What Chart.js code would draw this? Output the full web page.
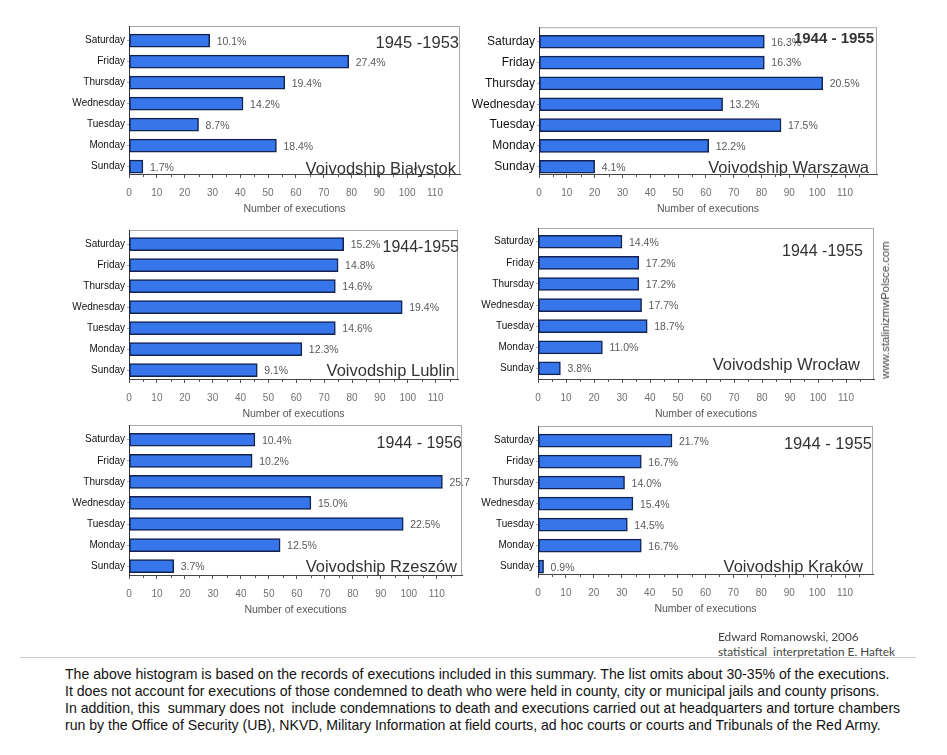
<!DOCTYPE html>
<html>
<head>
<meta charset="utf-8">
<script src="https://cdn.jsdelivr.net/npm/chart.js@4.4.1/dist/chart.umd.min.js"></script>
<style>
  html, body { margin:0; padding:0; background:#fff; }
  body { width:947px; height:755px; position:relative; overflow:hidden; }
  canvas.panel { position:absolute; }
  .credit { position:absolute; left:718px; font-family:Lato, "Open Sans", sans-serif; font-size:11.8px; color:#444; white-space:nowrap; }
  .rule { position:absolute; left:20px; top:657px; width:896px; height:1px; background:#cfcfcf; }
  .note { position:absolute; left:65px; top:666px; font-family:"Liberation Sans", Arial, sans-serif; font-size:14.1px; line-height:17px; color:#111; white-space:nowrap; }
  .wm { position:absolute; left:885px; top:310px; transform:translate(-50%,-50%) rotate(-90deg); font-family:"Liberation Sans", Arial, sans-serif; font-size:11.3px; color:#444; white-space:nowrap; }
</style>
</head>
<body>
<canvas id="p1" class="panel"></canvas>
<canvas id="p2" class="panel"></canvas>
<canvas id="p3" class="panel"></canvas>
<canvas id="p4" class="panel"></canvas>
<canvas id="p5" class="panel"></canvas>
<canvas id="p6" class="panel"></canvas>
<div class="wm">www.stalinizmwPolsce.com</div>
<div class="credit" style="top:629px">Edward Romanowski, 2006</div>
<div class="credit" style="top:644px">statistical&nbsp; interpretation E. Haftek</div>
<div class="rule"></div>
<div class="note">The above histogram is based on the records of executions included in this summary. The list omits about 30-35% of the executions.<br>It does not account for executions of those condemned to death who were held in county, city or municipal jails and county prisons.<br>In addition, this&nbsp; summary does not&nbsp; include condemnations to death and executions carried out at headquarters and torture chambers<br>run by the Office of Security (UB), NKVD, Military Information at field courts, ad hoc courts or courts and Tribunals of the Red Army.</div>
<script>
// ---- data ----
const DAYS = ['Saturday','Friday','Thursday','Wednesday','Tuesday','Monday','Sunday'];
const X_TICKS = [0,10,20,30,40,50,60,70,80,90,100,110];
const AXIS_TITLE = 'Number of executions';

const BIALYSTOK = [29,79,56,41,25,53,5];
const BIALYSTOK_PCT = ['10.1%','27.4%','19.4%','14.2%','8.7%','18.4%','1.7%'];
const WARSZAWA = [81,81,102,66,87,61,20];
const WARSZAWA_PCT = ['16.3%','16.3%','20.5%','13.2%','17.5%','12.2%','4.1%'];
const LUBLIN = [77,75,74,98,74,62,46];
const LUBLIN_PCT = ['15.2%','14.8%','14.6%','19.4%','14.6%','12.3%','9.1%'];
const WROCLAW = [30,36,36,37,39,23,8];
const WROCLAW_PCT = ['14.4%','17.2%','17.2%','17.7%','18.7%','11.0%','3.8%'];
const RZESZOW = [45,44,112,65,98,54,16];
const RZESZOW_PCT = ['10.4%','10.2%','25.7%','15.0%','22.5%','12.5%','3.7%'];
const KRAKOW = [48,37,31,34,32,37,2];
const KRAKOW_PCT = ['21.7%','16.7%','14.0%','15.4%','14.5%','16.7%','0.9%'];

// ---- layout / style ----
const SANS = '"Liberation Sans", Arial, sans-serif';
const YW = 110, PAD_T = 6, PAD_R = 8, XH = 46;

const PANELS = [
  {id:'p1', plot:[129,24,460,174], xMax:119, yMin:-0.7, yMax:6.35, values:BIALYSTOK, pct:BIALYSTOK_PCT,
   year:'1945 -1953', yearDy:17, yearDx:-1, yearFont:'16.5px '+SANS,
   name:'Voivodship Białystok', nameDy:-5, nameDx:-4, daySize:10},
  {id:'p2', plot:[539,24,877,174], xMax:121.5, yMin:-0.7, yMax:6.35, values:WARSZAWA, pct:WARSZAWA_PCT,
   year:'1944 - 1955', yearDy:12, yearDx:-3, yearFont:'bold 15px '+SANS,
   name:'Voivodship Warszawa', nameDy:-6, nameDx:-8, daySize:12},
  {id:'p3', plot:[129,228,458,379], xMax:118, yMin:-0.67, yMax:6.42, values:LUBLIN, pct:LUBLIN_PCT,
   year:'1944-1955', yearDy:17.5, yearDx:1, yearFont:'16px '+SANS,
   name:'Voivodship Lublin', nameDy:-8, nameDx:-3, daySize:10},
  {id:'p4', plot:[538,226,874,379], xMax:120, yMin:-0.65, yMax:6.5, values:WROCLAW, pct:WROCLAW_PCT,
   year:'1944 -1955', yearDy:24, yearDx:-11, yearFont:'16px '+SANS,
   name:'Voivodship Wrocław', nameDy:-14, nameDx:-14, daySize:10},
  {id:'p5', plot:[129,423,462,575], xMax:119, yMin:-0.7, yMax:6.42, values:RZESZOW, pct:RZESZOW_PCT,
   year:'1944 - 1956', yearDy:18.5, yearDx:0, yearFont:'16px '+SANS,
   name:'Voivodship Rzeszów', nameDy:-8, nameDx:-5, daySize:10},
  {id:'p6', plot:[538,424,873,574], xMax:120, yMin:-0.7, yMax:6.35, values:KRAKOW, pct:KRAKOW_PCT,
   year:'1944 - 1955', yearDy:18.5, yearDx:-1, yearFont:'16.5px '+SANS,
   name:'Voivodship Kraków', nameDy:-7, nameDx:-10, daySize:10}
];

const panelPlugin = {
  id: 'panelDeco',
  beforeDraw(chart, args, opts) {
    const a = chart.chartArea, ctx = chart.ctx;
    ctx.save();
    ctx.strokeStyle = '#a8a8a8';
    ctx.lineWidth = 1;
    ctx.strokeRect(a.left + 0.5, a.top + 0.5, a.right - a.left - 1, a.bottom - a.top);
    ctx.restore();
  },
  afterDraw(chart, args, opts) {
    const p = opts.panel, a = chart.chartArea, ctx = chart.ctx;
    const xs = chart.scales.x;
    ctx.save();
    ctx.strokeStyle = '#555';
    ctx.lineWidth = 1;
    for (let v = 5; v <= p.xMax; v += 10) {
      const px = Math.round(xs.getPixelForValue(v)) + 0.5;
      ctx.beginPath(); ctx.moveTo(px, a.bottom); ctx.lineTo(px, a.bottom + 3); ctx.stroke();
    }
    const meta = chart.getDatasetMeta(0);
    ctx.fillStyle = '#5a5a5a';
    ctx.font = '10.5px ' + SANS;
    ctx.textAlign = 'left';
    ctx.textBaseline = 'middle';
    meta.data.forEach((bar, i) => {
      ctx.fillText(p.pct[i], bar.x + 7, bar.y + 1);
    });
    ctx.fillStyle = '#333';
    ctx.textAlign = 'right';
    ctx.font = p.yearFont;
    ctx.fillText(p.year, a.right + p.yearDx, a.top + p.yearDy);
    ctx.font = '16.5px ' + SANS;
    ctx.fillText(p.name, a.right + p.nameDx, a.bottom + p.nameDy);
    ctx.restore();
  }
};

PANELS.forEach(p => {
  const [L, T, R, B] = p.plot;
  const cl = L - YW, ct = T - PAD_T;
  const cw = R - cl + PAD_R, ch = B - ct + XH;
  const cv = document.getElementById(p.id);
  cv.style.left = cl + 'px';
  cv.style.top = ct + 'px';
  cv.style.width = cw + 'px';
  cv.style.height = ch + 'px';
  cv.width = cw; cv.height = ch;

  new Chart(cv, {
    type: 'bar',
    data: {
      datasets: [{
        data: p.values.map((v, i) => ({x: v, y: i})),
        backgroundColor: '#3676ea',
        borderColor: '#13224f',
        borderWidth: 1.5,
        borderSkipped: false,
        barThickness: 13
      }]
    },
    options: {
      indexAxis: 'y',
      responsive: false,
      animation: false,
      devicePixelRatio: 1,
      layout: { padding: { top: PAD_T, right: PAD_R, left: 0, bottom: 0 } },
      plugins: {
        legend: { display: false },
        tooltip: { enabled: false },
        panelDeco: { panel: p }
      },
      scales: {
        x: {
          type: 'linear',
          min: 0, max: p.xMax,
          afterBuildTicks: s => { s.ticks = X_TICKS.map(v => ({value: v})); },
          afterFit: s => { s.height = XH; },
          grid: { display: true, drawOnChartArea: false, tickLength: 4, color: '#555' },
          border: { display: true, color: '#444', width: 1 },
          ticks: { color: '#707070', font: { family: SANS, size: 10 }, padding: 9, maxRotation: 0, autoSkip: false },
          title: { display: true, text: AXIS_TITLE, color: '#555', font: { family: SANS, size: 10.5 }, padding: { top: 2, bottom: 5 } }
        },
        y: {
          type: 'linear',
          reverse: true,
          offset: false,
          bounds: 'data',
          grace: 0,
          min: p.yMin, max: p.yMax,
          afterBuildTicks: s => { s.ticks = DAYS.map((d, i) => ({value: i})); },
          afterFit: s => { s.width = YW; },
          grid: { display: true, offset: false, drawOnChartArea: false, tickLength: 2, color: '#aaa' },
          border: { display: true, color: '#333', width: 1 },
          ticks: { color: '#111', font: { family: SANS, size: p.daySize }, padding: 2, autoSkip: false,
                   callback: v => DAYS[v] }
        }
      }
    },
    plugins: [panelPlugin]
  });
});
</script>
</body>
</html>
